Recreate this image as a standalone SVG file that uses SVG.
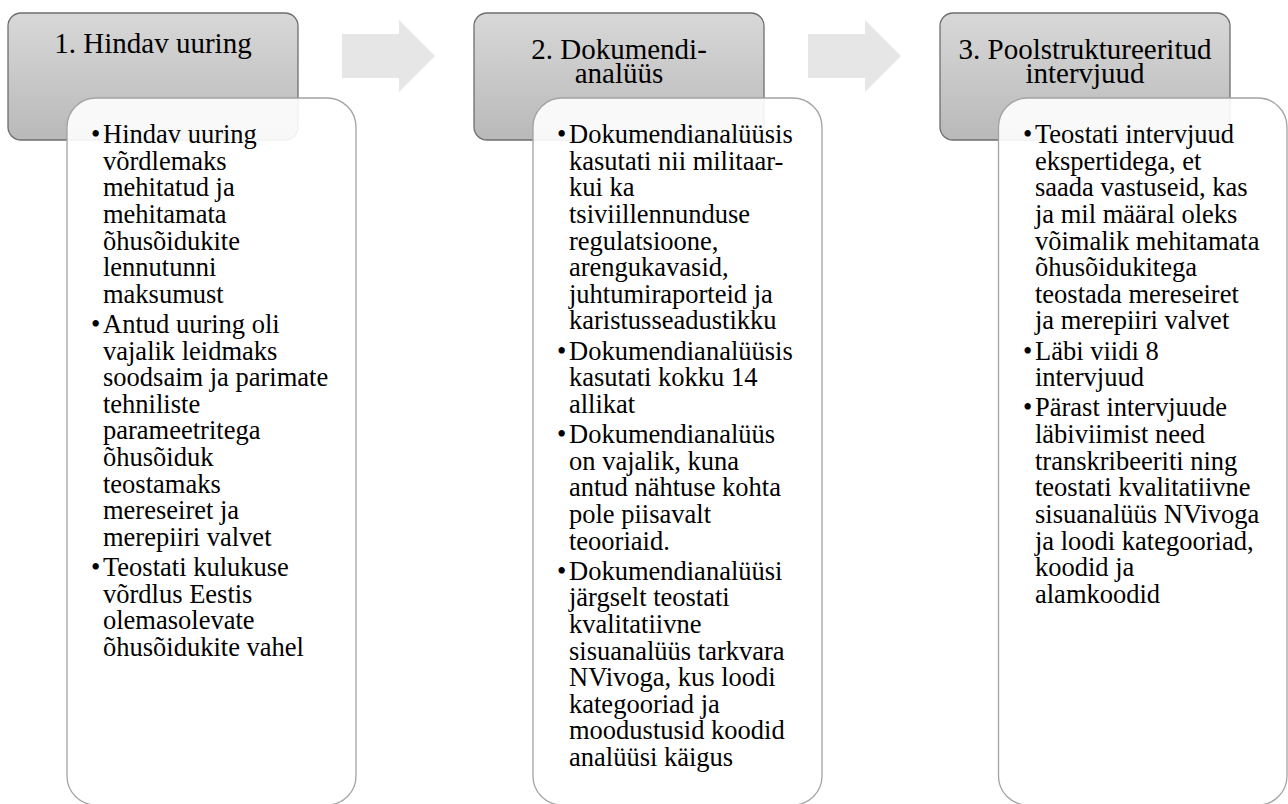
<svg xmlns="http://www.w3.org/2000/svg" width="1288" height="804" viewBox="0 0 1288 804">
<defs>
<linearGradient id="hg" x1="0" y1="0" x2="0" y2="1">
<stop offset="0" stop-color="#d8d8d8"/>
<stop offset="1" stop-color="#b9b9b9"/>
</linearGradient>
</defs>
<style>
.hdr{fill:url(#hg);stroke:#6e6e6e;stroke-width:1.3}
.body{fill:#ffffff;fill-opacity:0.9;stroke:#a3a3a3;stroke-width:1.3}
.arrow{fill:#e6e6e6;stroke:none}
.ht{font-family:"Liberation Serif","Times New Roman",serif;font-size:29px;fill:#000;text-anchor:middle}
.bt{font-family:"Liberation Serif","Times New Roman",serif;font-size:26.5px;fill:#000}
</style>
<rect width="1288" height="804" fill="#ffffff"/>
<g id="connectors">
<path class="arrow" d="M342,34 H399 V20 L435,56 L399,92 V78 H342 Z"/>
<path class="arrow" d="M808,34 H865 V20 L901,56 L865,92 V78 H808 Z"/>
</g>
<g id="step1-header">
<rect class="hdr" x="8" y="13" width="290" height="127" rx="13"/>
<text class="ht" x="153" y="53">1. Hindav uuring</text>
</g>
<g id="step1-body">
<rect class="body" x="67" y="98" width="289" height="707" rx="29"/>
<g class="bt">
<text x="91" y="143">•</text>
<text x="103" y="143">Hindav uuring</text>
<text x="103" y="169.6">võrdlemaks</text>
<text x="103" y="196.3">mehitatud ja</text>
<text x="103" y="222.9">mehitamata</text>
<text x="103" y="249.5">õhusõidukite</text>
<text x="103" y="276.2">lennutunni</text>
<text x="103" y="302.8">maksumust</text>
<text x="91" y="332.9">•</text>
<text x="103" y="332.9">Antud uuring oli</text>
<text x="103" y="359.5">vajalik leidmaks</text>
<text x="103" y="386.2">soodsaim ja parimate</text>
<text x="103" y="412.8">tehniliste</text>
<text x="103" y="439.4">parameetritega</text>
<text x="103" y="466.1">õhusõiduk</text>
<text x="103" y="492.7">teostamaks</text>
<text x="103" y="519.3">mereseiret ja</text>
<text x="103" y="546">merepiiri valvet</text>
<text x="91" y="576.1">•</text>
<text x="103" y="576.1">Teostati kulukuse</text>
<text x="103" y="602.7">võrdlus Eestis</text>
<text x="103" y="629.3">olemasolevate</text>
<text x="103" y="656">õhusõidukite vahel</text>
</g>
</g>
<g id="step2-header">
<rect class="hdr" x="474" y="13" width="290" height="127" rx="13"/>
<text class="ht" x="619" y="59">2. Dokumendi-</text>
<text class="ht" x="619" y="83">analüüs</text>
</g>
<g id="step2-body">
<rect class="body" x="533" y="98" width="289" height="707" rx="29"/>
<g class="bt">
<text x="557" y="143">•</text>
<text x="569" y="143">Dokumendianalüüsis</text>
<text x="569" y="169.6">kasutati nii militaar-</text>
<text x="569" y="196.3">kui ka</text>
<text x="569" y="222.9">tsiviillennunduse</text>
<text x="569" y="249.5">regulatsioone,</text>
<text x="569" y="276.2">arengukavasid,</text>
<text x="569" y="302.8">juhtumiraporteid ja</text>
<text x="569" y="329.4">karistusseadustikku</text>
<text x="557" y="359.5">•</text>
<text x="569" y="359.5">Dokumendianalüüsis</text>
<text x="569" y="386.2">kasutati kokku 14</text>
<text x="569" y="412.8">allikat</text>
<text x="557" y="442.9">•</text>
<text x="569" y="442.9">Dokumendianalüüs</text>
<text x="569" y="469.6">on vajalik, kuna</text>
<text x="569" y="496.2">antud nähtuse kohta</text>
<text x="569" y="522.8">pole piisavalt</text>
<text x="569" y="549.5">teooriaid.</text>
<text x="557" y="579.6">•</text>
<text x="569" y="579.6">Dokumendianalüüsi</text>
<text x="569" y="606.2">järgselt teostati</text>
<text x="569" y="632.9">kvalitatiivne</text>
<text x="569" y="659.5">sisuanalüüs tarkvara</text>
<text x="569" y="686.1">NVivoga, kus loodi</text>
<text x="569" y="712.8">kategooriad ja</text>
<text x="569" y="739.4">moodustusid koodid</text>
<text x="569" y="766">analüüsi käigus</text>
</g>
</g>
<g id="step3-header">
<rect class="hdr" x="940" y="13" width="290" height="127" rx="13"/>
<text class="ht" x="1085" y="59">3. Poolstruktureeritud</text>
<text class="ht" x="1085" y="83">intervjuud</text>
</g>
<g id="step3-body">
<rect class="body" x="998.5" y="98" width="288.5" height="707" rx="29"/>
<g class="bt">
<text x="1023" y="143">•</text>
<text x="1035" y="143">Teostati intervjuud</text>
<text x="1035" y="169.6">ekspertidega, et</text>
<text x="1035" y="196.3">saada vastuseid, kas</text>
<text x="1035" y="222.9">ja mil määral oleks</text>
<text x="1035" y="249.5">võimalik mehitamata</text>
<text x="1035" y="276.2">õhusõidukitega</text>
<text x="1035" y="302.8">teostada mereseiret</text>
<text x="1035" y="329.4">ja merepiiri valvet</text>
<text x="1023" y="359.5">•</text>
<text x="1035" y="359.5">Läbi viidi 8</text>
<text x="1035" y="386.2">intervjuud</text>
<text x="1023" y="416.3">•</text>
<text x="1035" y="416.3">Pärast intervjuude</text>
<text x="1035" y="442.9">läbiviimist need</text>
<text x="1035" y="469.6">transkribeeriti ning</text>
<text x="1035" y="496.2">teostati kvalitatiivne</text>
<text x="1035" y="522.8">sisuanalüüs NVivoga</text>
<text x="1035" y="549.5">ja loodi kategooriad,</text>
<text x="1035" y="576.1">koodid ja</text>
<text x="1035" y="602.7">alamkoodid</text>
</g>
</g>
</svg>
